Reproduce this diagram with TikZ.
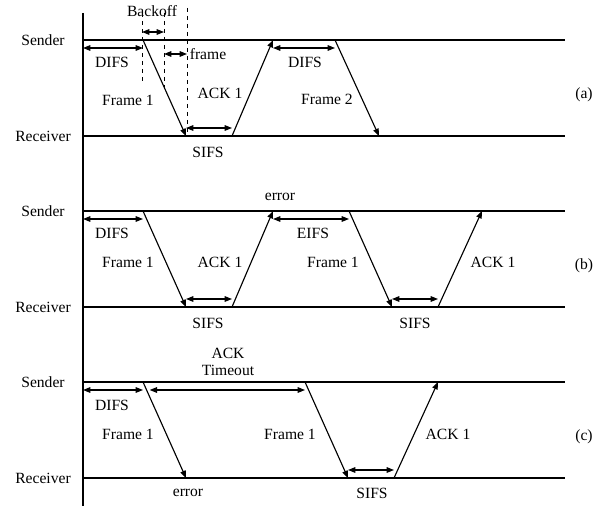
\documentclass[tikz,border=0pt]{standalone}
\usepackage{fontspec}
\setmainfont{Liberation Serif}
\usetikzlibrary{arrows.meta}

\begin{document}
\begin{tikzpicture}[x=0.75pt,y=-0.75pt,font=\fontsize{11.7}{13}\selectfont,
    >={Triangle[length=5.5pt,width=4.2pt]},line width=0.85pt]
  \tikzset{
    span/.style={<->},
    msg/.style={->},
    guide/.style={dashed,line width=0.65pt},
    lbl/.style={inner sep=1pt}
  }
  \useasboundingbox (0,0) rectangle (609,509);

  % common time axis
  \coordinate (top) at (83,13);
  \coordinate (bot) at (83,506);
  \draw (top) -- (bot);

  % sender and receiver lines of each panel
  \foreach \ys/\tag in {40/a,211/b,382/c} {
    \coordinate (s\tag) at (83,\ys);
    \coordinate (s\tag e) at (565,\ys);
    \coordinate (r\tag) at (83,\ys+96);
    \coordinate (r\tag e) at (565,\ys+96);
    \draw (s\tag) -- (s\tag e);
    \draw (r\tag) -- (r\tag e);
    \node[lbl] (snd\tag) at (43,\ys) {Sender};
    \node[lbl] (rcv\tag) at (43,\ys+96) {Receiver};
    \node[lbl] (tag\tag) at (584,\ys+55) {(\tag)};
  }

  % (a) successful exchange after backoff
  \coordinate (a1) at (143,40);
  \coordinate (a2) at (186,136);
  \coordinate (a3) at (232,136);
  \coordinate (a4) at (273,40);
  \coordinate (a5) at (335,40);
  \coordinate (a6) at (379,136);
  \coordinate (d1t) at (142,13);
  \coordinate (d1b) at (142,82);
  \coordinate (d2t) at (164,13);
  \coordinate (d2b) at (164,87);
  \coordinate (d3t) at (187,8);
  \coordinate (d3b) at (187,136);
  \draw[guide] (d1t) -- (d1b);
  \draw[guide] (d2t) -- (d2b);
  \draw[guide] (d3t) -- (d3b);
  \draw[span] ([yshift=6pt]d1b |- sa) -- ([yshift=6pt]d2b |- sa);
  \draw[span] ([yshift=-10.5pt]d2b |- sa) -- ([yshift=-10.5pt]d3b |- sa);
  \draw[span] ([yshift=-6pt]sa) -- ([yshift=-6pt]a1);
  \draw[msg] (a1) -- (a2);
  \draw[span] ([yshift=6pt]a2) -- ([yshift=6pt]a3);
  \draw[msg] (a3) -- (a4);
  \draw[span] ([yshift=-6pt]a4) -- ([yshift=-6pt]a5);
  \draw[msg] (a5) -- (a6);
  \node[lbl] (backoff) at (152,11) {Backoff};
  \node[lbl] (slot) at (208,54) {frame};
  \node[lbl] (difsA) at (112,62) {DIFS};
  \node[lbl] (frmA) at (128,100) {Frame 1};
  \node[lbl] (ackA) at (220,93) {ACK 1};
  \node[lbl] (sifsA) at (208,152) {SIFS};
  \node[lbl] (difsA2) at (305,62) {DIFS};
  \node[lbl] (frmA2) at (327,99) {Frame 2};

  % (b) ACK lost, retry after EIFS
  \coordinate (b1) at (143,211);
  \coordinate (b2) at (186,307);
  \coordinate (b3) at (232,307);
  \coordinate (b4) at (273,211);
  \coordinate (b5) at (349,211);
  \coordinate (b6) at (392,307);
  \coordinate (b7) at (438,307);
  \coordinate (b8) at (482,211);
  \draw[span] ([yshift=-6pt]sb) -- ([yshift=-6pt]b1);
  \draw[msg] (b1) -- (b2);
  \draw[span] ([yshift=6pt]b2) -- ([yshift=6pt]b3);
  \draw[msg] (b3) -- (b4);
  \draw[span] ([yshift=-6pt]b4) -- ([yshift=-6pt]b5);
  \draw[msg] (b5) -- (b6);
  \draw[span] ([yshift=6pt]b6) -- ([yshift=6pt]b7);
  \draw[msg] (b7) -- (b8);
  \node[lbl] (errB) at (280,197) {error};
  \node[lbl] (difsB) at (112,233) {DIFS};
  \node[lbl] (frmB) at (128,262) {Frame 1};
  \node[lbl] (ackB) at (220,262) {ACK 1};
  \node[lbl] (sifsB) at (208,323) {SIFS};
  \node[lbl] (eifsB) at (313,233) {EIFS};
  \node[lbl] (frmB2) at (333,262) {Frame 1};
  \node[lbl] (sifsB2) at (415,323) {SIFS};
  \node[lbl] (ackB2) at (493,262) {ACK 1};

  % (c) frame lost, retry after ACK timeout
  \coordinate (c1) at (143,382);
  \coordinate (c2) at (186,478);
  \coordinate (c3) at (305,382);
  \coordinate (c4) at (348,478);
  \coordinate (c5) at (394,478);
  \coordinate (c6) at (438,382);
  \draw[span] ([yshift=-6pt]sc) -- ([yshift=-6pt]c1);
  \draw[msg] (c1) -- (c2);
  \draw[span] ([xshift=5pt,yshift=-6pt]c1) -- ([yshift=-6pt]c3);
  \draw[msg] (c3) -- (c4);
  \draw[span] ([yshift=6pt]c4) -- ([yshift=6pt]c5);
  \draw[msg] (c5) -- (c6);
  \node[lbl,align=center] (tout) at (228,362) {ACK\\Timeout};
  \node[lbl] (difsC) at (112,405) {DIFS};
  \node[lbl] (frmC) at (128,434) {Frame 1};
  \node[lbl] (errC) at (188,493) {error};
  \node[lbl] (frmC2) at (290,434) {Frame 1};
  \node[lbl] (sifsC) at (372,493) {SIFS};
  \node[lbl] (ackC) at (448,434) {ACK 1};
\end{tikzpicture}
\end{document}
